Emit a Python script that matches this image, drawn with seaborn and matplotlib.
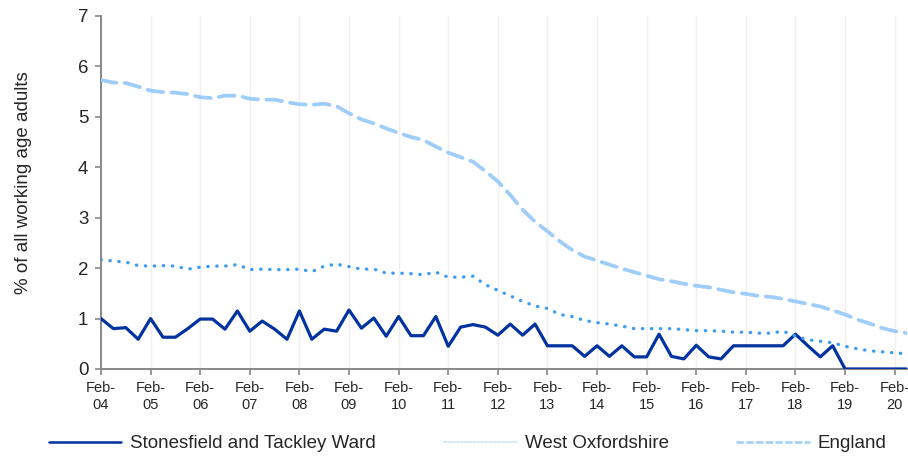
import numpy as np
import pandas as pd
import matplotlib
matplotlib.use("Agg")
import matplotlib.pyplot as plt
import seaborn as sns

# quarterly values, Feb-04 .. May-20
ward = [1.0, 0.8, 0.82, 0.59, 1.0, 0.63, 0.63, 0.8,
        0.99, 0.99, 0.79, 1.15, 0.75, 0.95, 0.79, 0.59,
        1.15, 0.59, 0.79, 0.75, 1.17, 0.81, 1.01, 0.65,
        1.04, 0.66, 0.66, 1.04, 0.45, 0.83, 0.88, 0.83,
        0.67, 0.89, 0.67, 0.89, 0.46, 0.46, 0.46, 0.25,
        0.46, 0.25, 0.46, 0.24, 0.24, 0.69, 0.25, 0.2,
        0.47, 0.24, 0.2, 0.46, 0.46, 0.46, 0.46, 0.46,
        0.69, 0.46, 0.24, 0.46, 0.0, 0.0, 0.0, 0.0,
        0.0, 0.0]
west_oxon = [2.17, 2.14, 2.12, 2.05, 2.04, 2.05, 2.04, 1.98,
             2.02, 2.04, 2.04, 2.07, 1.97, 1.98, 1.97, 1.97,
             1.98, 1.93, 2.04, 2.08, 2.03, 1.98, 1.98, 1.90,
             1.90, 1.89, 1.87, 1.92, 1.82, 1.82, 1.84, 1.67,
             1.56, 1.45, 1.34, 1.25, 1.20, 1.08, 1.04, 0.96,
             0.92, 0.89, 0.85, 0.80, 0.80, 0.80, 0.80, 0.78,
             0.76, 0.76, 0.75, 0.73, 0.73, 0.71, 0.71, 0.75,
             0.65, 0.58, 0.55, 0.52, 0.45, 0.40, 0.36, 0.34,
             0.32, 0.30]
england = [5.73, 5.68, 5.67, 5.60, 5.52, 5.49, 5.48, 5.45,
           5.39, 5.37, 5.42, 5.42, 5.36, 5.34, 5.34, 5.29,
           5.25, 5.24, 5.26, 5.21, 5.07, 4.95, 4.87, 4.77,
           4.68, 4.60, 4.54, 4.41, 4.29, 4.20, 4.11, 3.92,
           3.72, 3.45, 3.16, 2.92, 2.73, 2.53, 2.36, 2.23,
           2.15, 2.07, 1.99, 1.92, 1.85, 1.78, 1.74, 1.69,
           1.65, 1.62, 1.57, 1.52, 1.49, 1.45, 1.43, 1.39,
           1.34, 1.29, 1.24, 1.16, 1.08, 0.98, 0.90, 0.81,
           0.75, 0.71]
years = ["04", "05", "06", "07", "08", "09", "10", "11", "12",
         "13", "14", "15", "16", "17", "18", "19", "20"]

quarter = np.arange(len(ward))
tick_pos = np.arange(0, len(years) * 4, 4)
tick_labels = ["Feb-\n" + y for y in years]

sns.set_style("white")
plt.rcParams["font.family"] = ["Liberation Sans", "DejaVu Sans"]

fig = plt.figure(figsize=(9.08, 4.57), dpi=100)
ax = fig.add_axes([0.1112, 0.1926, 0.8878, 0.7724])

for x in tick_pos:
    ax.axvline(x, color="#efefef", lw=1, zorder=0)

series = [
    ("Stonesfield and Tackley Ward", ward, "#0033a0", "-", 2.3),
    ("West Oxfordshire", west_oxon, "#3d9cf2", (0, (0.1, 2.6)), 2.4),
    ("England", england, "#9fcdfa", (0, (4.2, 2.2)), 2.7),
]
for name, vals, color, ls, lw in series:
    df = pd.DataFrame({"q": quarter, "v": vals})
    sns.lineplot(data=df, x="q", y="v", ax=ax, color=color, lw=lw,
                 linestyle=ls, label=name, zorder=3)

for line in ax.get_lines()[-3:]:
    line.set_dash_capstyle("round")
    line.set_solid_capstyle("round")

ax.set_xlim(0, len(ward) - 1)
ax.set_ylim(0, 7)
ax.set_xticks(tick_pos)
ax.set_xticklabels(tick_labels, fontsize=10.5, linespacing=1.2)
ax.set_yticks(range(8))
ax.tick_params(axis="y", left=True, labelsize=13.5, length=4, width=1.2,
               color="#888888", direction="out", pad=5)
ax.tick_params(axis="x", bottom=True, length=4, width=1.2,
               color="#888888", direction="out", pad=5)
ax.set_xlabel("")
ax.set_ylabel("% of all working age adults", fontsize=13.5)
ax.yaxis.set_label_coords(-0.086, 0.527)

for side in ["top", "right"]:
    ax.spines[side].set_visible(False)
for side in ["left", "bottom"]:
    ax.spines[side].set_color("#888888")
    ax.spines[side].set_linewidth(1.4)

handles, labels = ax.get_legend_handles_labels()
ax.get_legend().remove()
leg = fig.legend(handles, labels, loc="center", ncol=3,
                 bbox_to_anchor=(0.5154, 0.0295), frameon=False,
                 fontsize=13.5, handlelength=3.85, handletextpad=0.45,
                 columnspacing=3.65)
leg_styles = [("#0033a0", "-", 1.8), ("#d5e6f8", (0, (1, 1)), 1.5),
              ("#a9d2fb", (0, (2, 1.5)), 2.0)]
for lh, (c, ls, lw) in zip(leg.get_lines(), leg_styles):
    lh.set_color(c)
    lh.set_linestyle(ls)
    lh.set_linewidth(lw)

fig.savefig("out.png", dpi=100)
plt.close()
